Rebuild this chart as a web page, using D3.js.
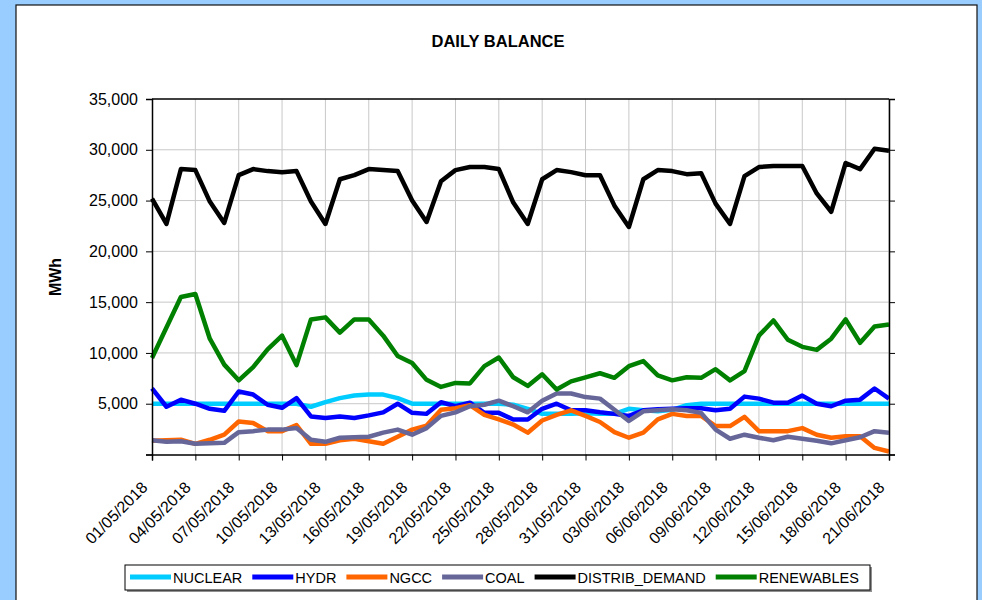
<!DOCTYPE html>
<html>
<head>
<meta charset="utf-8">
<script src="https://cdn.jsdelivr.net/npm/d3@7"></script>
<style>
  body { margin: 0; background: #99CCFF; }
  svg { display: block; }
  text { font-family: Arial, "Liberation Sans", sans-serif; }
</style>
</head>
<body>
<svg id="canvas" width="982" height="600"></svg>
<script>
// Categories: one point per day, 01/05/2018 .. 21/06/2018
let fmt = d3.timeFormat('%d/%m/%Y')
let dates = d3.timeDay.range(new Date(2018, 4, 1), new Date(2018, 5, 22)).map(fmt)

// Series values (MWh)
let nuclear = [5000, 5000, 5000, 5000, 5000, 5000, 5000, 5000, 5000, 5000,
    5000, 4700, 5150, 5550, 5800, 5900, 5900, 5550, 5000, 5000,
    5000, 5000, 5000, 5000, 5000, 4900, 4500, 4000, 4000, 4000,
    4050, 4000, 4000, 4500, 4350, 4250, 4400, 4850, 5000, 5000,
    5000, 5000, 5000, 5000, 5000, 5000, 5000, 5000, 5000, 5000,
    5000, 5000]
let hydr = [6500, 4700, 5400, 5000, 4500, 4300, 6200, 5900, 4900, 4600,
    5550, 3750, 3600, 3750, 3600, 3850, 4150, 5000, 4100, 4000,
    5150, 4750, 5100, 4100, 4100, 3450, 3450, 4500, 5000, 4350,
    4350, 4150, 4000, 3800, 4350, 4450, 4500, 4550, 4550, 4350,
    4500, 5700, 5500, 5100, 5100, 5800, 5000, 4750, 5300, 5400,
    6500, 5500]
let ngcc = [1350, 1400, 1450, 1050, 1450, 1950, 3250, 3100, 2300, 2300,
    2900, 1050, 1050, 1400, 1550, 1300, 1050, 1750, 2450, 2850,
    4400, 4550, 4850, 3900, 3450, 2950, 2150, 3350, 3900, 4350,
    3800, 3200, 2200, 1650, 2150, 3450, 4000, 3800, 3800, 2800,
    2800, 3700, 2300, 2300, 2300, 2600, 1950, 1650, 1800, 1800,
    650, 300]
let coal = [1400, 1250, 1300, 1050, 1100, 1150, 2200, 2300, 2450, 2450,
    2600, 1450, 1250, 1650, 1700, 1750, 2150, 2450, 1950, 2600,
    3800, 4150, 4750, 4900, 5300, 4750, 4150, 5300, 6000, 6000,
    5650, 5500, 4400, 3300, 4250, 4350, 4450, 4350, 4100, 2450,
    1550, 1950, 1650, 1400, 1750, 1550, 1350, 1100, 1400, 1700,
    2300, 2150]
let demand = [25200, 22700, 28100, 28000, 24900, 22800, 27500, 28100, 27900, 27800,
    27900, 24900, 22700, 27100, 27500, 28100, 28000, 27900, 25000, 22900,
    26900, 28000, 28300, 28300, 28100, 24800, 22700, 27100, 28000, 27800,
    27500, 27500, 24500, 22400, 27100, 28000, 27900, 27600, 27700, 24700,
    22700, 27400, 28300, 28400, 28400, 28400, 25700, 23900, 28700, 28100,
    30100, 29900]
let renewables = [9500, 12500, 15500, 15800, 11400, 8850, 7300, 8600, 10350, 11700,
    8800, 13300, 13500, 12000, 13300, 13300, 11700, 9700, 9000, 7350,
    6650, 7050, 7000, 8700, 9550, 7600, 6750, 7900, 6400, 7200,
    7600, 8000, 7550, 8700, 9200, 7800, 7300, 7600, 7550, 8400,
    7300, 8200, 11700, 13200, 11300, 10600, 10300, 11400, 13300, 11000,
    12600, 12800]

let seriesNames = ['NUCLEAR', 'HYDR', 'NGCC', 'COAL', 'DISTRIB_DEMAND', 'RENEWABLES']
let seriesColors = ['#00CCFF', '#0000FF', '#FF6600', '#666699', '#000000', '#008000']
let seriesValues = [nuclear, hydr, ngcc, coal, demand, renewables]
let yTicks = [0, 5000, 10000, 15000, 20000, 25000, 30000, 35000]

let canvas = d3.select('#canvas')

// white chart panel
canvas.append('rect')
    .attr('x', 16).attr('y', 5)
    .attr('width', 961).attr('height', 620)
    .attr('fill', '#fff')
    .attr('stroke', '#111')
    .attr('stroke-width', 1.2)

let plotLeft = 152, plotRight = 889, plotTop = 99, plotBottom = 454.5

let x = d3.scalePoint().domain(dates).range([plotLeft, plotRight])
let y = d3.scaleLinear().domain([0, 35000]).range([plotBottom, plotTop])

let xTicks = dates.filter((d, i) => i % 3 === 0)

// grid lines
canvas.append('g')
    .selectAll('line')
    .data(yTicks.filter(v => v > 0 && v < 35000))
    .enter()
    .append('line')
    .attr('x1', plotLeft).attr('x2', plotRight)
    .attr('y1', d => y(d)).attr('y2', d => y(d))
    .attr('stroke', '#c8c8c8')
    .attr('stroke-width', 1)

canvas.append('g')
    .selectAll('line')
    .data(xTicks.slice(1))
    .enter()
    .append('line')
    .attr('x1', d => x(d)).attr('x2', d => x(d))
    .attr('y1', plotTop).attr('y2', plotBottom)
    .attr('stroke', '#c8c8c8')
    .attr('stroke-width', 1)

// series lines
let line = d3.line()
    .x((d, i) => x(dates[i]))
    .y(d => y(d))

canvas.append('g')
    .selectAll('path')
    .data(seriesValues)
    .enter()
    .append('path')
    .attr('d', d => line(d))
    .attr('fill', 'none')
    .attr('stroke', (d, i) => seriesColors[i])
    .attr('stroke-width', 4.5)
    .attr('stroke-linejoin', 'round')

// top border of the plot area
canvas.append('line')
    .attr('x1', plotLeft).attr('x2', plotRight).attr('y1', plotTop).attr('y2', plotTop)
    .attr('stroke', '#000').attr('stroke-width', 1.5)

// left axis
let yAxis = canvas.append('g')
    .attr('transform', `translate(${plotLeft},0)`)
    .call(d3.axisLeft(y).tickValues(yTicks).tickSize(6).tickPadding(8)
        .tickFormat(d => d === 0 ? '' : d3.format(',')(d)))
yAxis.select('.domain').attr('stroke', '#000').attr('stroke-width', 1.5)
yAxis.selectAll('text').attr('font-size', '16px').attr('fill', '#000')
    .attr('font-family', 'Arial, "Liberation Sans", sans-serif')

// right axis (ticks only)
let yAxisR = canvas.append('g')
    .attr('transform', `translate(${plotRight},0)`)
    .call(d3.axisRight(y).tickValues(yTicks).tickSize(6).tickFormat(''))
yAxisR.select('.domain').attr('stroke', '#000').attr('stroke-width', 1.5)

// bottom axis
let xAxis = canvas.append('g')
    .attr('transform', `translate(0,${plotBottom})`)
    .call(d3.axisBottom(x).tickValues(xTicks).tickSize(6))
xAxis.select('.domain').attr('stroke', '#000').attr('stroke-width', 1.5)
xAxis.selectAll('text')
    .attr('font-size', '16px')
    .attr('fill', '#000')
    .attr('font-family', 'Arial, "Liberation Sans", sans-serif')
    .attr('text-anchor', 'end')
    .attr('y', 0).attr('dy', 0)
    .attr('transform', 'translate(-4,34) rotate(-45)')

// title and axis title
canvas.append('text')
    .attr('x', 498).attr('y', 47)
    .attr('text-anchor', 'middle')
    .attr('font-size', '16.5px')
    .attr('font-weight', 'bold')
    .text('DAILY BALANCE')

canvas.append('text')
    .attr('transform', 'translate(61,277) rotate(-90)')
    .attr('text-anchor', 'middle')
    .attr('font-size', '16px')
    .attr('font-weight', 'bold')
    .text('MWh')

// legend
let legend = canvas.append('g')
legend.append('rect')
    .attr('x', 127).attr('y', 567).attr('width', 745).attr('height', 25)
    .attr('fill', '#909090')
legend.append('rect')
    .attr('x', 125).attr('y', 565).attr('width', 745).attr('height', 25)
    .attr('fill', '#fff').attr('stroke', '#000').attr('stroke-width', 1)

let cursor = 130
seriesNames.forEach((name, i) => {
    legend.append('line')
        .attr('x1', cursor).attr('x2', cursor + 41)
        .attr('y1', 577).attr('y2', 577)
        .attr('stroke', seriesColors[i])
        .attr('stroke-width', 5)
    let t = legend.append('text')
        .attr('x', cursor + 43).attr('y', 583)
        .attr('font-size', '14.5px')
        .text(name)
    cursor += 43 + t.node().getComputedTextLength() + 10
})
</script>
</body>
</html>
